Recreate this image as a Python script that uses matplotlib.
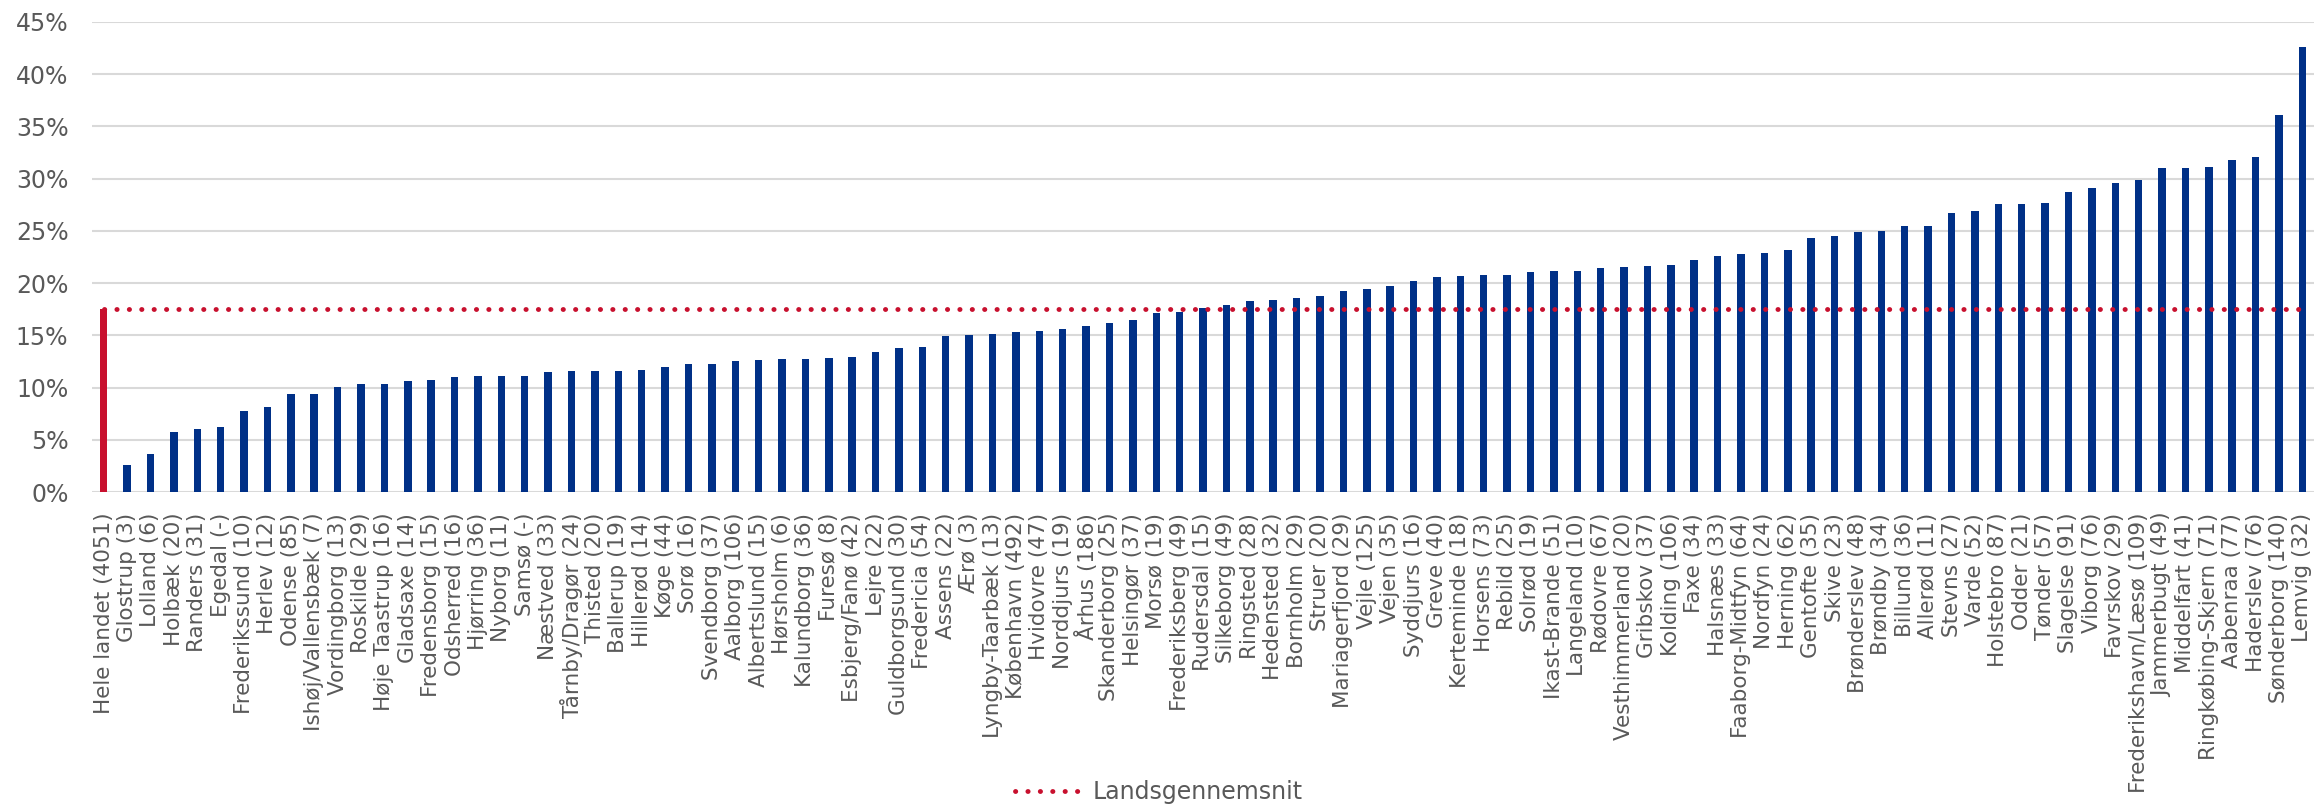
import matplotlib.pyplot as plt
from matplotlib.ticker import PercentFormatter

# Kommuner (antal) og andel i procent
kommuner = [
    "Hele landet", "Glostrup", "Lolland", "Holbæk", "Randers", "Egedal",
    "Frederikssund", "Herlev", "Odense", "Ishøj/Vallensbæk", "Vordingborg",
    "Roskilde", "Høje Taastrup", "Gladsaxe", "Fredensborg", "Odsherred",
    "Hjørring", "Nyborg", "Samsø", "Næstved", "Tårnby/Dragør", "Thisted",
    "Ballerup", "Hillerød", "Køge", "Sorø", "Svendborg", "Aalborg",
    "Albertslund", "Hørsholm", "Kalundborg", "Furesø", "Esbjerg/Fanø",
    "Lejre", "Guldborgsund", "Fredericia", "Assens", "Ærø", "Lyngby-Taarbæk",
    "København", "Hvidovre", "Norddjurs", "Århus", "Skanderborg", "Helsingør",
    "Morsø", "Frederiksberg", "Rudersdal", "Silkeborg", "Ringsted",
    "Hedensted", "Bornholm", "Struer", "Mariagerfjord", "Vejle", "Vejen",
    "Syddjurs", "Greve", "Kerteminde", "Horsens", "Rebild", "Solrød",
    "Ikast-Brande", "Langeland", "Rødovre", "Vesthimmerland", "Gribskov",
    "Kolding", "Faxe", "Halsnæs", "Faaborg-Midtfyn", "Nordfyn", "Herning",
    "Gentofte", "Skive", "Brønderslev", "Brøndby", "Billund", "Allerød",
    "Stevns", "Varde", "Holstebro", "Odder", "Tønder", "Slagelse", "Viborg",
    "Favrskov", "Frederikshavn/Læsø", "Jammerbugt", "Middelfart",
    "Ringkøbing-Skjern", "Aabenraa", "Haderslev", "Sønderborg", "Lemvig",
]

antal = [
    "4051", "3", "6", "20", "31", "-", "10", "12", "85", "7", "13", "29",
    "16", "14", "15", "16", "36", "11", "-", "33", "24", "20", "19", "14",
    "44", "16", "37", "106", "15", "6", "36", "8", "42", "22", "30", "54",
    "22", "3", "13", "492", "47", "19", "186", "25", "37", "19", "49", "15",
    "49", "28", "32", "29", "20", "29", "125", "35", "16", "40", "18", "73",
    "25", "19", "51", "10", "67", "20", "37", "106", "34", "33", "64", "24",
    "62", "35", "23", "48", "34", "36", "11", "27", "52", "87", "21", "57",
    "91", "76", "29", "109", "49", "41", "71", "77", "76", "140", "32",
]

andel = [
    17.5, 2.6, 3.6, 5.7, 6.0, 6.2, 7.8, 8.1, 9.4, 9.4, 10.1, 10.3, 10.3,
    10.6, 10.7, 11.0, 11.1, 11.1, 11.1, 11.5, 11.6, 11.6, 11.6, 11.7, 12.0,
    12.3, 12.3, 12.5, 12.6, 12.7, 12.7, 12.8, 12.9, 13.4, 13.8, 13.9, 14.9,
    15.0, 15.1, 15.3, 15.4, 15.6, 15.9, 16.2, 16.5, 17.1, 17.2, 17.6, 17.9,
    18.3, 18.4, 18.6, 18.8, 19.2, 19.4, 19.7, 20.2, 20.6, 20.7, 20.8, 20.8,
    21.1, 21.2, 21.2, 21.4, 21.5, 21.6, 21.7, 22.2, 22.6, 22.8, 22.9, 23.2,
    24.3, 24.5, 24.9, 25.0, 25.5, 25.5, 26.7, 26.9, 27.6, 27.6, 27.7, 28.7,
    29.1, 29.6, 29.9, 31.0, 31.0, 31.1, 31.8, 32.1, 36.1, 42.6,
]

landsgennemsnit = 17.5

BLAA = "#003087"
ROED = "#C8102E"
GRAA = "#595959"

labels = [f"{k} ({n})" for k, n in zip(kommuner, antal)]
x = list(range(len(kommuner)))
farver = [ROED] + [BLAA] * (len(kommuner) - 1)

fig = plt.figure(figsize=(23.18, 8.05), dpi=100)
ax = fig.add_axes([0.0397, 0.3888, 0.9586, 0.5839])

ax.bar(x, andel, width=0.32, color=farver, zorder=3)
ax.plot(x, [landsgennemsnit] * len(x), color=ROED, linewidth=3.5,
        linestyle=(0, (0.05, 2.5)), dash_capstyle="round", zorder=4,
        label="Landsgennemsnit")

ax.set_xlim(-0.5, len(x) - 0.5)
ax.set_ylim(0, 45)
ax.set_yticks(range(0, 46, 5))
ax.yaxis.set_major_formatter(PercentFormatter(decimals=0))
ax.grid(axis="y", color="#D9D9D9", linewidth=1.5, zorder=0)
for s in ax.spines.values():
    s.set_visible(False)

ax.set_xticks(x)
ax.set_xticklabels(labels, rotation=90, fontsize=15.5, color=GRAA)
ax.tick_params(axis="x", length=0, pad=15)
ax.tick_params(axis="y", length=0, pad=17, labelsize=17, labelcolor=GRAA)

fig.legend(loc="center", bbox_to_anchor=(0.5, 0.016), frameon=False,
           fontsize=17, labelcolor=GRAA, handlelength=2.8, handletextpad=0.5)

fig.savefig("out.png", dpi=100)
